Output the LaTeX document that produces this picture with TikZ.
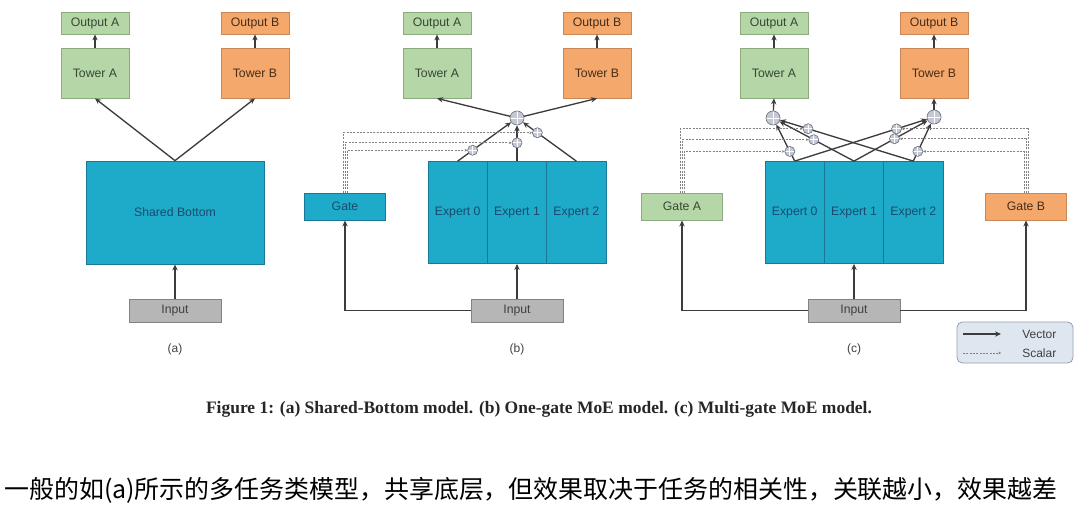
\documentclass[tikz,border=0pt]{standalone}
\usepackage{fontspec}
\setmainfont{Liberation Sans}
\newfontfamily\capfont{Liberation Serif}
\newfontfamily\cjkfont{Noto Sans CJK SC}
\usetikzlibrary{arrows.meta}

\definecolor{towgreen}{RGB}{181,214,167}
\definecolor{towgreenline}{RGB}{140,170,128}
\definecolor{towgreentext}{RGB}{55,72,52}
\definecolor{toworange}{RGB}{245,168,108}
\definecolor{toworangeline}{RGB}{200,135,85}
\definecolor{toworangetext}{RGB}{70,45,25}
\definecolor{expblue}{RGB}{30,171,201}
\definecolor{expblueline}{RGB}{25,120,150}
\definecolor{expbluetext}{RGB}{25,75,110}
\definecolor{inpgray}{RGB}{182,182,182}
\definecolor{inpgrayline}{RGB}{130,130,130}
\definecolor{arrgray}{RGB}{60,60,60}
\definecolor{dashgray}{RGB}{130,130,130}
\definecolor{gatefill}{RGB}{196,200,212}
\definecolor{gateline}{RGB}{110,115,130}
\definecolor{legfill}{RGB}{222,230,240}
\definecolor{legline}{RGB}{150,160,175}

\tikzset{
  box/.style={draw, line width=0.6pt, inner sep=0pt, font=\fontsize{9.2}{11}\selectfont},
  outbox/.style={box, minimum width=51pt, minimum height=16.5pt},
  towbox/.style={box, minimum width=51pt, minimum height=37.5pt},
  greenbox/.style={fill=towgreen, draw=towgreenline, text=towgreentext},
  orangebox/.style={fill=toworange, draw=toworangeline, text=toworangetext},
  bluebox/.style={box, fill=expblue, draw=expblueline, text=expbluetext},
  expbox/.style={bluebox, minimum width=44.5pt, minimum height=76.5pt},
  inbox/.style={box, fill=inpgray, draw=inpgrayline, text=black!75, minimum width=69pt, minimum height=17.25pt},
  gatebox/.style={box, minimum width=60.5pt, minimum height=20.25pt},
  vec/.style={draw=arrgray, line width=1pt, -{Stealth[length=4.5pt,width=4pt]}},
  sca/.style={draw=dashgray, line width=0.6pt, dash pattern=on 1.5pt off 1pt, -{Stealth[length=2pt,width=2pt]}},
  mixer/.style={circle, draw=gateline, fill=gatefill, line width=0.5pt, inner sep=0pt,
    path picture={\draw[white, line width=0.7pt]
      (path picture bounding box.north) -- (path picture bounding box.south)
      (path picture bounding box.west) -- (path picture bounding box.east);}},
  biggate/.style={mixer, minimum size=10.5pt},
  smallgate/.style={mixer, minimum size=7.5pt},
  tag/.style={font=\fontsize{9}{11}\selectfont, text=black!75},
}

\begin{document}
\begin{tikzpicture}[x=0.75pt,y=0.75pt,yscale=-1,xscale=1]
\useasboundingbox (0,0) rectangle (1080,507);

%%%%% (a) Shared-Bottom
% Shape: Rectangle
\node[outbox,greenbox] (outAa) at (95,23) {Output A};
\node[outbox,orangebox] (outBa) at (255,23) {Output B};
\node[towbox,greenbox] (towAa) at (95,73) {Tower A};
\node[towbox,orangebox] (towBa) at (255,73) {Tower B};
\node[bluebox, minimum width=133.5pt, minimum height=77.25pt] (shared) at (175,212.5) {Shared Bottom};
\node[inbox] (inpa) at (175,310.5) {Input};
% Straight Lines
\draw[vec] (towAa) -- (outAa);
\draw[vec] (towBa) -- (outBa);
\draw[vec] (shared.north) -- (towAa.south);
\draw[vec] (shared.north) -- (towBa.south);
\draw[vec] (inpa) -- (shared);
% Text Node
\node[tag] (laba) at (175,349) {(a)};

%%%%% (b) One-gate MoE
% Shape: Rectangle
\node[outbox,greenbox] (outAb) at (437,23) {Output A};
\node[outbox,orangebox] (outBb) at (597,23) {Output B};
\node[towbox,greenbox] (towAb) at (437,73) {Tower A};
\node[towbox,orangebox] (towBb) at (597,73) {Tower B};
\node[expbox] (e0b) at (457.7,212.5) {Expert 0};
\node[expbox] (e1b) at (517,212.5) {Expert 1};
\node[expbox] (e2b) at (576.3,212.5) {Expert 2};
\node[gatebox,bluebox] (gateb) at (345,206.5) {Gate};
\node[inbox] (inpb) at (517,310.5) {Input};
% Shape: Circle
\node[biggate] (mixb) at (517,118) {};
% Straight Lines
\draw[vec] (towAb) -- (outAb);
\draw[vec] (towBb) -- (outBb);
\draw[vec] (mixb) -- (towAb.south);
\draw[vec] (mixb) -- (towBb.south);
\draw[vec] (e0b.north) -- coordinate[pos=0.28] (p0b) (mixb);
\draw[vec] (e1b.north) -- coordinate[pos=0.51] (p1b) (mixb);
\draw[vec] (e2b.north) -- coordinate[pos=0.73] (p2b) (mixb);
\node[smallgate] (s0b) at (p0b) {};
\node[smallgate] (s1b) at (p1b) {};
\node[smallgate] (s2b) at (p2b) {};
\draw[vec] (inpb) -- (e1b);
\draw[vec] (inpb.west) -| (gateb.south);
% Dashed Lines
\draw[sca] ([xshift=-1.5pt]gateb.north) |- (s2b);
\draw[sca] (gateb.north) |- (s1b);
\draw[sca] ([xshift=1.5pt]gateb.north) |- (s0b);
% Text Node
\node[tag] (labb) at (517,349) {(b)};

%%%%% (c) Multi-gate MoE
% Shape: Rectangle
\node[outbox,greenbox] (outAc) at (774,23) {Output A};
\node[outbox,orangebox] (outBc) at (934,23) {Output B};
\node[towbox,greenbox] (towAc) at (774,73) {Tower A};
\node[towbox,orangebox] (towBc) at (934,73) {Tower B};
\node[expbox] (e0c) at (794.7,212.5) {Expert 0};
\node[expbox] (e1c) at (854,212.5) {Expert 1};
\node[expbox] (e2c) at (913.3,212.5) {Expert 2};
\node[gatebox,greenbox] (gateAc) at (682,206.5) {Gate A};
\node[gatebox,orangebox] (gateBc) at (1026,206.5) {Gate B};
\node[inbox] (inpc) at (854,310.5) {Input};
% Shape: Circle
\node[biggate] (mixAc) at (773,118) {};
\node[biggate] (mixBc) at (934,117) {};
% Straight Lines
\draw[vec] (towAc) -- (outAc);
\draw[vec] (towBc) -- (outBc);
\draw[vec] (mixAc) -- (towAc.south);
\draw[vec] (mixBc) -- (towBc.south);
\draw[vec] (e0c.north) -- coordinate[pos=0.265] (pA0) (mixAc);
\draw[vec] (e1c.north) -- coordinate[pos=0.54] (pA1) (mixAc);
\draw[vec] (e2c.north) -- coordinate[pos=0.79] (pA2) (mixAc);
\draw[vec] (e0c.north) -- coordinate[pos=0.77] (pB0) (mixBc);
\draw[vec] (e1c.north) -- coordinate[pos=0.55] (pB1) (mixBc);
\draw[vec] (e2c.north) -- coordinate[pos=0.26] (pB2) (mixBc);
\foreach \p in {A0,A1,A2,B0,B1,B2}
  \node[smallgate] (s\p) at (p\p) {};
\draw[vec] (inpc) -- (e1c);
\draw[vec] (inpc.west) -| (gateAc.south);
\draw[vec] (inpc.east) -| (gateBc.south);
% Dashed Lines
\draw[sca] ([xshift=-1.5pt]gateAc.north) |- (sA2);
\draw[sca] (gateAc.north) |- (sA1);
\draw[sca] ([xshift=1.5pt]gateAc.north) |- (sA0);
\draw[sca] ([xshift=1.5pt]gateBc.north) |- (sB0);
\draw[sca] (gateBc.north) |- (sB1);
\draw[sca] ([xshift=-1.5pt]gateBc.north) |- (sB2);
% Text Node
\node[tag] (labc) at (854,349) {(c)};

%%%%% legend
\node[draw=legline, fill=legfill, rounded corners=4pt, line width=0.6pt, minimum width=87pt, minimum height=30.75pt] (leg) at (1015,342.5) {};
\coordinate (vecs) at (963,334);
\coordinate (vece) at (1001,334);
\coordinate (scas) at (963,353);
\coordinate (scae) at (1001,353);
\draw[vec] (vecs) -- (vece);
\draw[sca] (scas) -- (scae);
\node[tag, anchor=east] (vectxt) at (1061,334) {Vector};
\node[tag, anchor=east] (scatxt) at (1061,353) {Scalar};

%%%%% caption and remark
\node[font=\capfont\bfseries\fontsize{13.1}{15}\selectfont, text=black!85] (caption) at (539,409) {Figure 1: (a) Shared-Bottom model. (b) One-gate MoE model. (c) Multi-gate MoE model.};
\node[font=\cjkfont\fontsize{18.7}{22}\selectfont, anchor=west, inner sep=0pt] (remark) at (4,490) {一般的如(a)所示的多任务类模型，共享底层，但效果取决于任务的相关性，关联越小，效果越差};
\end{tikzpicture}
\end{document}
